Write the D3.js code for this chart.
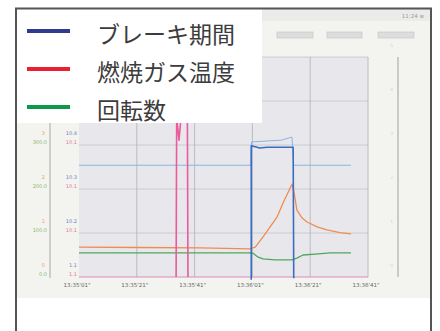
<!DOCTYPE html>
<html>
<head>
<meta charset="utf-8">
<script src="https://cdn.jsdelivr.net/npm/d3@7"></script>
<style>
  body { margin: 0; background: #ffffff; }
  svg { display: block; }
</style>
</head>
<body>
<div id="chart"></div>
<script>
// time in seconds from 13:35'01"
const tickSeconds = [0, 20, 40, 60, 80, 100];
const tickLabels = ["13:35'01\"", "13:35'21\"", "13:35'41\"", "13:36'01\"", "13:36'21\"", "13:36'41\""];

// left axis labels (upper row / lower row per grid line)
const orangeTicks = ["0", "1", "2", "3"];
const greenTicks = ["0.0", "100.0", "200.0", "300.0"];
const blueTicks = ["1.1", "10.2", "10.3", "10.4"];
const pinkTicks = ["1.1", "10.1", "10.1", "10.1"];

// series: [seconds, value]
const tempSeries = [[0, 68], [21, 67], [42, 66], [59, 64], [61, 68], [63.7, 91], [68.5, 136], [70.6, 168], [73.7, 211],
  [74.4, 193], [75.4, 152], [77.2, 134], [78.9, 125], [82.4, 114], [85.8, 107], [90.3, 101], [94.1, 98]];
const rpmSeries = [[0, 55], [59, 55], [60.2, 54], [62, 45], [63.7, 41], [67.8, 39], [73.7, 39], [75.4, 43], [77.5, 50],
  [81.7, 52], [86.9, 55], [94.1, 55]];
const brakeSeries = [[59.6, -6], [59.6, 298], [61, 296], [62.5, 293], [65, 295], [74.1, 295], [74.3, -3]];
const pressSeries = [[0, 254], [59.5, 254], [59.7, 307], [70, 311], [73.7, 318], [74.3, 254], [94.1, 254]];
const signalBase = [[0, 0], [100, 0]];
const signalSeries = [[33.6, 0], [33.8, 363], [34.6, 311], [35.3, 363], [37.5, 363], [37.7, 0]];

const W = 440, H = 331;
const svg = d3.select('#chart').append('svg')
  .attr('width', W).attr('height', H);

const x = d3.scaleLinear().domain([0, 100]).range([79, 368]);
const y = d3.scaleLinear().domain([0, 500]).range([277, 57]);

// panel
svg.append('rect').attr('x', 16).attr('y', 8).attr('width', 415).attr('height', 323).attr('fill', '#ffffff');
svg.append('rect').attr('x', 16).attr('y', 8).attr('width', 415).attr('height', 290).attr('fill', '#f3f3ef');
svg.append('rect').attr('x', 16).attr('y', 8).attr('width', 415).attr('height', 13).attr('fill', '#ebebea');
svg.append('text').attr('x', 424).attr('y', 18).attr('text-anchor', 'end')
  .attr('font-family', 'DejaVu Sans').attr('font-size', 5.5).attr('fill', '#999').text('11:24 ≡');
[[277, 313], [327, 362], [378, 414]].forEach(function(b) {
  svg.append('rect').attr('x', b[0]).attr('y', 32).attr('width', b[1] - b[0]).attr('height', 6)
    .attr('fill', '#dddddd').attr('stroke', '#c4c4c4').attr('stroke-width', 0.6);
});

// plot background
svg.append('rect').attr('x', x(0)).attr('y', y(500))
  .attr('width', x(100) - x(0)).attr('height', y(0) - y(500)).attr('fill', '#e8e8ec');

// grid
svg.append('g').selectAll('line').data(d3.range(100, 501, 100)).join('line')
  .attr('x1', x(0)).attr('x2', x(100)).attr('y1', d => y(d)).attr('y2', d => y(d))
  .attr('stroke', '#c4c4c8').attr('stroke-width', 0.8);
svg.append('g').selectAll('line').data(tickSeconds.slice(1)).join('line')
  .attr('x1', d => x(d)).attr('x2', d => x(d)).attr('y1', y(500)).attr('y2', y(0))
  .attr('stroke', '#aeb0b8').attr('stroke-width', 0.8);

// x axis labels
svg.append('g').selectAll('text').data(tickSeconds).join('text')
  .attr('x', d => x(d) - 2).attr('y', 287).attr('text-anchor', 'middle')
  .attr('font-family', 'DejaVu Sans').attr('font-size', 5.5).attr('fill', '#666')
  .text((d, i) => tickLabels[i]);

// left axes
svg.append('line').attr('x1', 50).attr('x2', 50).attr('y1', 57).attr('y2', 278)
  .attr('stroke', '#a8a8a8').attr('stroke-width', 1);
const leftTicks = [0, 100, 200, 300];
function leftLabels(arr, xp, dy, color) {
  svg.append('g').selectAll('text').data(leftTicks).join('text')
    .attr('x', xp).attr('y', (d) => y(d) + dy).attr('text-anchor', 'end')
    .attr('font-family', 'DejaVu Sans').attr('font-size', 5).attr('fill', color)
    .text((d, i) => arr[i]);
}
leftLabels(orangeTicks, 45, -10, '#f0a060');
leftLabels(greenTicks, 47, -1, '#88b870');
leftLabels(blueTicks, 77, -10, '#6f86c8');
leftLabels(pinkTicks, 77, -1, '#e07aa0');

// right axis
svg.append('line').attr('x1', 398).attr('x2', 398).attr('y1', 57).attr('y2', 277)
  .attr('stroke', '#a0a0a0').attr('stroke-width', 1);
svg.append('g').selectAll('text').data(d3.range(0, 501, 100)).join('text')
  .attr('x', 393).attr('y', d => y(d) - 10).attr('text-anchor', 'end')
  .attr('font-family', 'DejaVu Sans').attr('font-size', 4.5).attr('fill', '#d4d4d4')
  .text(d => d / 100);

// series
const line = d3.line().x(d => x(d[0])).y(d => y(d[1]));
function draw(data, color, w) {
  svg.append('path').datum(data).attr('d', line)
    .attr('fill', 'none').attr('stroke', color).attr('stroke-width', w)
    .attr('stroke-linejoin', 'round');
}
draw(pressSeries, '#8eb2e6', 1);
draw(rpmSeries, '#4ea65e', 1.3);
draw(tempSeries, '#f08c50', 1.3);
draw(signalBase, '#d98cb6', 1.2);
draw(signalSeries, '#ea5a9c', 1.6);
draw(brakeSeries, '#3a6cc4', 1.6);

// legend
svg.append('rect').attr('x', 17).attr('y', 9).attr('width', 245).attr('height', 114).attr('fill', '#ffffff');
const legendNames = ['ブレーキ期間', '燃焼ガス温度', '回転数'];
const legendColors = ['#2f3b8e', '#e8202f', '#10984a'];
const legendY = [31, 69, 107];
const lg = svg.append('g').selectAll('g').data(legendNames).join('g')
  .attr('transform', (d, i) => 'translate(0,' + legendY[i] + ')');
lg.append('line').attr('x1', 27).attr('x2', 70).attr('y1', 0).attr('y2', 0)
  .attr('stroke', (d, i) => legendColors[i]).attr('stroke-width', 4);
lg.append('text').attr('x', 97).attr('y', 1.5).attr('dominant-baseline', 'central')
  .attr('font-family', 'Noto Sans CJK JP').attr('font-size', 23).attr('fill', '#3c3c3c')
  .text(d => d);

// frame
svg.append('path').attr('d', 'M16,331 V8.5 H431 V331')
  .attr('fill', 'none').attr('stroke', '#555555').attr('stroke-width', 2);
</script>
</body>
</html>
